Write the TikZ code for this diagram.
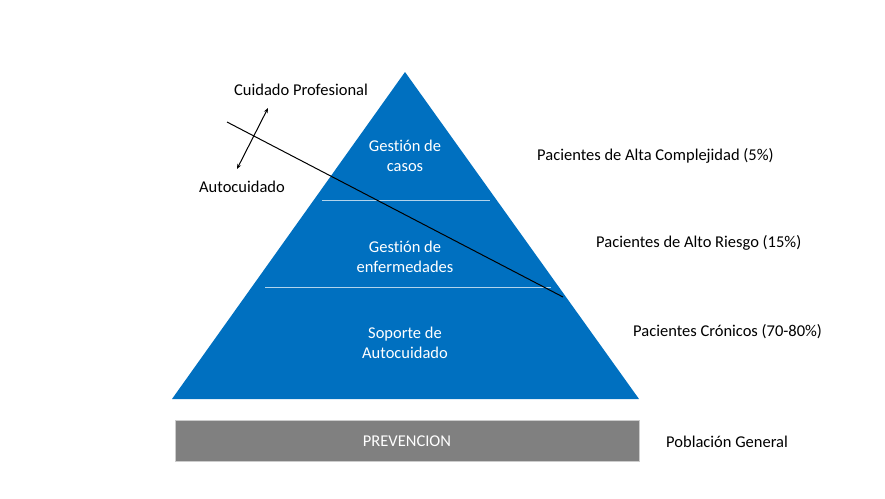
\documentclass[tikz,border=0pt]{standalone}
\usepackage{fontspec}
\setmainfont[Ligatures=NoCommon]{Carlito}
\usetikzlibrary{arrows.meta}
\definecolor{pblue}{HTML}{0070C0}
\definecolor{pgray}{HTML}{808080}
\tikzset{
  lbl/.style={font=\fontsize{16.5}{20}\selectfont, text=black, inner sep=0pt},
  inlbl/.style={font=\fontsize{16.5}{20.5}\selectfont, text=white, align=center, inner sep=0pt},
  sep/.style={draw=white!70!pblue, line width=0.8pt},
}
\begin{document}
\begin{tikzpicture}[x=1pt,y=-1pt]
\useasboundingbox (0,0) rectangle (885,498);
% pyramid
\fill[pblue] (405,72) coordinate (apex) -- (172,399) coordinate (bl) -- (639,399) coordinate (br) -- cycle;
\coordinate (s1l) at (322,200); \coordinate (s1r) at (490,200);
\coordinate (s2l) at (265,287); \coordinate (s2r) at (551,287);
\draw[sep] (s1l) -- (s1r);
\draw[sep] (s2l) -- (s2r);
\node[inlbl] (casos) at (405,156) {Gestión de\\casos};
\node[inlbl] (enf) at (405,257) {Gestión de\\enfermedades};
\node[inlbl] (sop) at (405,343) {Soporte de\\Autocuidado};
% prevention bar
\node[fill=pgray, draw=gray!40, line width=0.8pt, minimum width=464pt, minimum height=41pt, inner sep=0pt, font=\fontsize{16.5}{20}\selectfont, text=white] (prev) at (407,441) {PREVENCION};
% labels
\node[lbl] (cp) at (301,90) {Cuidado Profesional};
\node[lbl] (ac) at (242,187) {Autocuidado};
\node[lbl, anchor=west] (p1) at (537,156) {Pacientes de Alta Complejidad (5\%)};
\node[lbl, anchor=west] (p2) at (596,243) {Pacientes de Alto Riesgo (15\%)};
\node[lbl, anchor=west] (p3) at (633,332) {Pacientes Crónicos (70-80\%)};
\node[lbl, anchor=west] (p4) at (666,442) {Población General};
% lines
\coordinate (d1) at (227,122); \coordinate (d2) at (563,297);
\draw[black, line width=1pt] (d1) -- (d2);
\coordinate (a1) at (237,169); \coordinate (a2) at (268,108);
\draw[black, line width=1pt, {Stealth[length=5pt,width=4pt]}-{Stealth[length=5pt,width=4pt]}] (a1) -- (a2);
\end{tikzpicture}
\end{document}
